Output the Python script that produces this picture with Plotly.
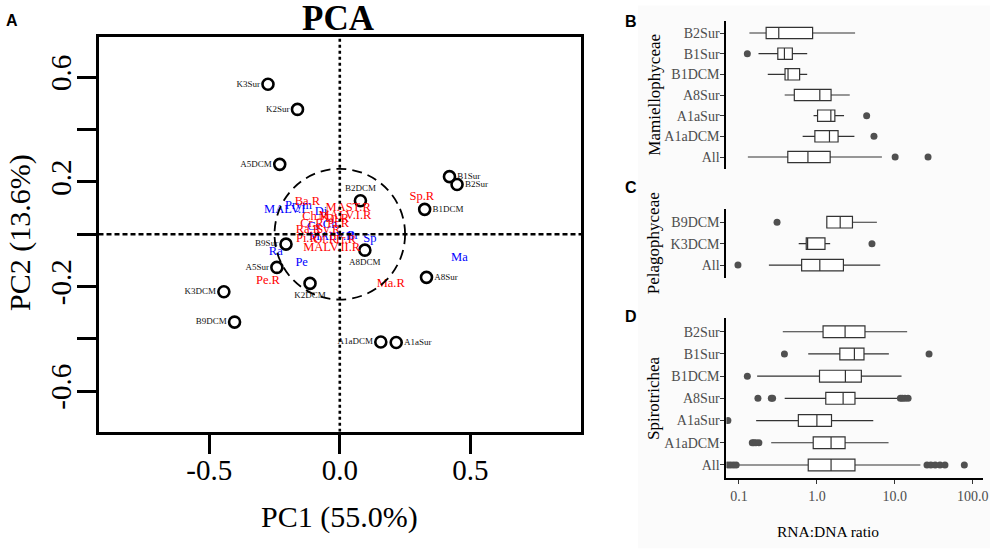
import plotly.graph_objects as go

# ---------------- PCA data ----------------
samples = ['K3Sur', 'K2Sur', 'A5DCM', 'B1Sur', 'B2Sur', 'B1DCM', 'B2DCM', 'B9Sur',
           'A8DCM', 'A5Sur', 'A8Sur', 'K2DCM', 'K3DCM', 'B9DCM', 'A1aDCM', 'A1aSur']
pc1 = [-0.275, -0.162, -0.230, 0.420, 0.449, 0.325, 0.079, -0.206,
       0.096, -0.241, 0.332, -0.114, -0.444, -0.403, 0.157, 0.216]
pc2 = [0.573, 0.477, 0.267, 0.220, 0.190, 0.095, 0.128, -0.038,
       -0.061, -0.127, -0.165, -0.188, -0.220, -0.336, -0.412, -0.414]

rna_vars = ['Ba.R', 'MAST.R', 'MALV.I.R', 'Di.R', 'Ch.R', 'Cr.R', 'Pr.R', 'Ra.R', 'Sy.R',
            'Pi.R', 'Ol.R', 'Tr.R', 'MALV.II.R', 'Sp.R', 'Pe.R', 'Ma.R']
rna_pc1 = [-0.124, 0.032, 0.020, -0.010, -0.094, -0.107, -0.006, -0.120, -0.044,
           -0.126, -0.056, 0.020, -0.031, 0.314, -0.275, 0.195]
rna_pc2 = [0.124, 0.099, 0.070, 0.060, 0.067, 0.041, 0.041, 0.016, 0.016,
           -0.016, -0.020, -0.020, -0.052, 0.143, -0.178, -0.191]

dna_vars = ['MALV.I', 'Prym', 'Di', 'Cr', 'Ch', 'MALV.II', 'Pr', 'Sp', 'Ra', 'Pe', 'Ma']
dna_pc1 = [-0.211, -0.158, -0.072, -0.101, -0.037, -0.031, 0.051, 0.115, -0.245, -0.146, 0.458]
dna_pc2 = [0.092, 0.107, 0.086, 0.028, 0.035, -0.010, -0.007, -0.016, -0.067, -0.108, -0.089]

circle_radius = 0.25

# ---------------- Box plot data (RNA:DNA ratio) ----------------
mam_cats = ['B2Sur', 'B1Sur', 'B1DCM', 'A8Sur', 'A1aSur', 'A1aDCM', 'All']
mam_lo = [0.136, 0.178, 0.234, 0.386, 0.906, 0.656, 0.130]
mam_q1 = [0.223, 0.315, 0.390, 0.513, 1.02, 0.942, 0.423]
mam_med = [0.324, 0.383, 0.426, 1.09, 1.51, 1.45, 0.767]
mam_q3 = [0.881, 0.484, 0.600, 1.52, 1.70, 1.87, 1.48]
mam_hi = [3.09, 0.751, 0.751, 2.64, 2.23, 3.03, 6.83]
mam_out_cat = ['B1Sur', 'A1aSur', 'A1aDCM', 'All', 'All']
mam_out_val = [0.128, 4.35, 5.4, 10.1, 26.7]

pel_cats = ['B9DCM', 'K3DCM', 'All']
pel_lo = [1.34, 0.584, 0.242]
pel_q1 = [1.34, 0.73, 0.637]
pel_med = [1.99, 0.76, 1.09]
pel_q3 = [2.86, 1.27, 2.19]
pel_hi = [5.89, 1.48, 6.5]
pel_out_cat = ['B9DCM', 'K3DCM', 'All']
pel_out_val = [0.308, 5.09, 0.097]

spi_cats = ['B2Sur', 'B1Sur', 'B1DCM', 'A8Sur', 'A1aSur', 'A1aDCM', 'All']
spi_lo = [0.365, 0.774, 0.171, 0.386, 0.166, 0.259, 0.097]
spi_q1 = [1.20, 1.97, 1.08, 1.30, 0.578, 0.897, 0.774]
spi_med = [2.30, 3.03, 2.32, 2.17, 1.00, 1.52, 1.52]
spi_q3 = [4.14, 4.02, 3.72, 3.08, 1.54, 2.30, 3.08]
spi_hi = [14.4, 8.39, 12.2, 11.2, 5.29, 8.31, 21.3]
spi_out_cat = ['B1Sur', 'B1Sur', 'B1DCM', 'A8Sur', 'A8Sur', 'A8Sur', 'A8Sur', 'A8Sur', 'A8Sur', 'A8Sur',
               'A1aSur', 'A1aDCM', 'A1aDCM', 'A1aDCM', 'A1aDCM',
               'All', 'All', 'All', 'All', 'All', 'All', 'All', 'All', 'All', 'All']
spi_out_val = [0.383, 27.5, 0.128, 0.175, 0.26, 0.27, 11.8, 12.5, 13.5, 14.8,
               0.072, 0.148, 0.155, 0.165, 0.18,
               0.072, 0.078, 0.085, 0.092, 25.9, 29.0, 33.0, 38.0, 44.0, 78.0]

log_ticks = [0.1, 1, 10, 100]
log_tick_text = ['0.1', '1.0', '10.0', '100.0']

# ---------------- styling ----------------
SERIF = 'Liberation Serif'
SANS = 'Liberation Sans'
W, H = 1005, 551

label_side = {
    'K3Sur': 'middle left', 'K2Sur': 'middle left', 'A5DCM': 'middle left',
    'B1Sur': 'middle right', 'B2Sur': 'middle right', 'B1DCM': 'middle right',
    'B2DCM': 'top center', 'B9Sur': 'middle left', 'A8DCM': 'bottom center',
    'A5Sur': 'middle left', 'A8Sur': 'middle right', 'K2DCM': 'bottom center',
    'K3DCM': 'middle left', 'B9DCM': 'middle left', 'A1aDCM': 'middle left',
    'A1aSur': 'middle right',
}

fig = go.Figure()

# PCA samples
fig.add_trace(go.Scatter(
    x=pc1, y=pc2, text=samples, mode='markers+text',
    textposition=[label_side[s] for s in samples],
    textfont=dict(family=SERIF, size=9, color='#111111'),
    marker=dict(symbol='circle-open', size=11, color='black', line=dict(width=2.6, color='black')),
    xaxis='x', yaxis='y', showlegend=False, cliponaxis=False))

# variable labels
fig.add_trace(go.Scatter(
    x=dna_pc1, y=dna_pc2, text=dna_vars, mode='text', textposition='middle center',
    textfont=dict(family=SERIF, size=12.5, color='#0000ff'),
    xaxis='x', yaxis='y', showlegend=False))
fig.add_trace(go.Scatter(
    x=rna_pc1, y=rna_pc2, text=rna_vars, mode='text', textposition='middle center',
    textfont=dict(family=SERIF, size=12.5, color='#ff0000'),
    xaxis='x', yaxis='y', showlegend=False))

box_style = dict(fillcolor='white', line=dict(color='#333333', width=1.2),
                 whiskerwidth=0, boxpoints=False, orientation='h', showlegend=False)
out_style = dict(mode='markers', marker=dict(color='#505050', size=7), showlegend=False)

fig.add_trace(go.Box(y=mam_cats, q1=mam_q1, median=mam_med, q3=mam_q3,
                     lowerfence=mam_lo, upperfence=mam_hi, width=0.55,
                     xaxis='x2', yaxis='y2', **box_style))
fig.add_trace(go.Scatter(x=mam_out_val, y=mam_out_cat, xaxis='x2', yaxis='y2', **out_style))

fig.add_trace(go.Box(y=pel_cats, q1=pel_q1, median=pel_med, q3=pel_q3,
                     lowerfence=pel_lo, upperfence=pel_hi, width=0.54,
                     xaxis='x3', yaxis='y3', **box_style))
fig.add_trace(go.Scatter(x=pel_out_val, y=pel_out_cat, xaxis='x3', yaxis='y3', **out_style))

fig.add_trace(go.Box(y=spi_cats, q1=spi_q1, median=spi_med, q3=spi_q3,
                     lowerfence=spi_lo, upperfence=spi_hi, width=0.53,
                     xaxis='x4', yaxis='y4', **box_style))
fig.add_trace(go.Scatter(x=spi_out_val, y=spi_out_cat, xaxis='x4', yaxis='y4', **out_style))

box_xdom = [730 / W, 988 / W]
log_range = [-1.162, 2.133]

def ydom(top_px, bot_px):
    return [1 - bot_px / H, 1 - top_px / H]

cat_y = dict(type='category', showline=True, linewidth=2, linecolor='black',
             ticks='outside', ticklen=4, tickwidth=1.2, tickcolor='#333333',
             ticklabelstandoff=-2,
             tickfont=dict(family=SERIF, size=14, color='#4d4d4d'),
             showgrid=False, zeroline=False, fixedrange=True)
hidden_x = dict(type='log', range=log_range, domain=box_xdom, showticklabels=False,
                showline=False, ticks='', showgrid=False, zeroline=False)

fig.update_layout(
    width=W, height=H, margin=dict(l=0, r=0, t=0, b=0),
    paper_bgcolor='white', plot_bgcolor='rgba(0,0,0,0)',
    xaxis=dict(domain=[99 / W, 584 / W], range=[-0.924, 0.924],
               tickvals=[-0.5, 0, 0.5], ticktext=['-0.5', '0.0', '0.5'],
               ticks='outside', ticklen=19, tickwidth=2.5, tickcolor='black',
               ticklabelstandoff=-8,
               tickfont=dict(family=SERIF, size=29, color='black'),
               showline=True, linewidth=2.6, linecolor='black', mirror=True,
               showgrid=False, zeroline=False, anchor='y'),
    yaxis=dict(domain=ydom(36.7, 431.7), range=[-0.755, 0.755],
               tickvals=[-0.6, -0.4, -0.2, 0, 0.2, 0.4, 0.6],
               ticktext=['-0.6', '', '-0.2', '', '0.2', '', '0.6'],
               tickangle=-90, ticklabelstandoff=-6,
               ticks='outside', ticklen=19, tickwidth=2.5, tickcolor='black',
               tickfont=dict(family=SERIF, size=29, color='black'),
               showline=True, linewidth=2.6, linecolor='black', mirror=True,
               showgrid=False, zeroline=False, anchor='x'),
    xaxis2=dict(anchor='y2', **hidden_x),
    yaxis2=dict(domain=ydom(20.6, 169.4), categoryorder='array', categoryarray=mam_cats,
                range=[6.6, -0.6], anchor='x2', **cat_y),
    xaxis3=dict(anchor='y3', **hidden_x),
    yaxis3=dict(domain=ydom(209.4, 277.9), categoryorder='array', categoryarray=pel_cats,
                range=[2.6, -0.6], anchor='x3', **cat_y),
    xaxis4=dict(type='log', range=log_range, domain=box_xdom, anchor='y4',
                tickvals=log_ticks, ticktext=log_tick_text,
                showline=True, linewidth=2, linecolor='black',
                ticks='outside', ticklen=4, tickwidth=1.2, tickcolor='#333333',
                tickfont=dict(family=SERIF, size=14, color='#4d4d4d'),
                showgrid=False, zeroline=False),
    yaxis4=dict(domain=ydom(318.4, 478.3), categoryorder='array', categoryarray=spi_cats,
                range=[6.6, -0.6], anchor='x4', **cat_y),
    shapes=[
        dict(type='rect', xref='paper', yref='paper', x0=641 / W, x1=995 / W, y0=0.005, y1=0.99,
             fillcolor='#fbfbfb', line=dict(width=0), layer='below'),
        dict(type='line', xref='x', yref='y', x0=0, x1=0, y0=-0.755, y1=0.755,
             line=dict(color='black', width=2.6, dash='3px,3px')),
        dict(type='line', xref='x', yref='y', x0=-0.924, x1=0.924, y0=0, y1=0,
             line=dict(color='black', width=2.6, dash='5px,3px')),
        dict(type='circle', xref='x', yref='y', x0=-circle_radius, x1=circle_radius,
             y0=-circle_radius, y1=circle_radius,
             line=dict(color='black', width=1.8, dash='10px,6px')),
    ],
)

ann = []
def add_ann(text, xpx, ypx, size, family=SERIF, angle=0, bold=False, color='black',
            yanchor='middle', yshift=0):
    ann.append(dict(text=f'<b>{text}</b>' if bold else text, x=xpx / W, y=1 - ypx / H,
                    xref='paper', yref='paper', xanchor='center', yanchor=yanchor,
                    showarrow=False, textangle=angle, yshift=yshift,
                    font=dict(family=family, size=size, color=color)))

add_ann('A', 12, 21, 16, family=SANS, bold=True)
add_ann('B', 634, 22, 16, family=SANS, bold=True)
add_ann('C', 634, 187.5, 16, family=SANS, bold=True)
add_ann('D', 634, 316, 16, family=SANS, bold=True)
add_ann('PCA', 340, 0, 35, bold=True, yanchor='top', yshift=3)
add_ann('PC1 (55.0%)', 341, 517, 30)
add_ann('PC2 (13.6%)', 20, 232, 30, angle=-90)
add_ann('Mamiellophyceae', 657, 95, 17, angle=-90)
add_ann('Pelagophyceae', 657, 243.5, 17, angle=-90)
add_ann('Spirotrichea', 657, 398.3, 17, angle=-90)
add_ann('RNA:DNA ratio', 832, 531.7, 15.5)
fig.update_layout(annotations=ann)

fig.write_html('out.html', config={'displayModeBar': False},
               post_script="document.body.style.margin='0px';")
